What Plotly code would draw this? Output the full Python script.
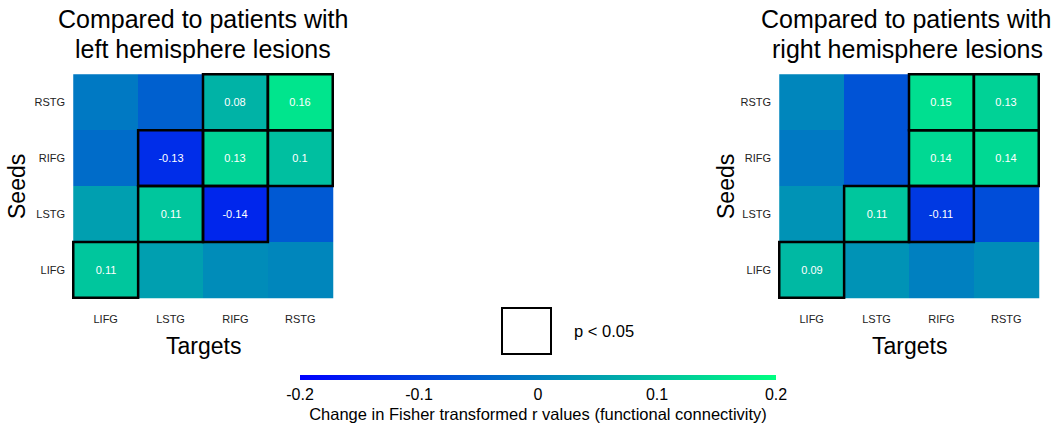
import plotly.graph_objects as go

targets = ["LIFG", "LSTG", "RIFG", "RSTG"]
seeds = ["LIFG", "LSTG", "RIFG", "RSTG"]  # bottom to top

# rows follow seeds (bottom -> top), columns follow targets
left_values = [
    [0.11, 0.05, 0.02, 0.01],
    [0.05, 0.11, -0.14, -0.06],
    [-0.03, -0.13, 0.13, 0.10],
    [-0.01, -0.05, 0.08, 0.16],
]
left_sig = [
    [1, 0, 0, 0],
    [0, 1, 1, 0],
    [0, 1, 1, 1],
    [0, 0, 1, 1],
]
right_values = [
    [0.09, 0.03, 0.00, 0.02],
    [0.03, 0.11, -0.11, -0.08],
    [-0.01, -0.07, 0.14, 0.14],
    [0.01, -0.07, 0.15, 0.13],
]
right_sig = [
    [1, 0, 0, 0],
    [0, 1, 1, 0],
    [0, 0, 1, 1],
    [0, 0, 1, 1],
]
colorbar_ticks = [-0.2, -0.1, 0, 0.1, 0.2]
colorbar_ticktext = ["-0.2", "-0.1", "0", "0.1", "0.2"]

FONT = "Liberation Sans, Arial, Helvetica, sans-serif"

W, H = 1054, 425


def px(x):
    return x / W


def py(y):
    return 1 - y / H


def fmt(v):
    s = f"{v:.2f}".rstrip("0")
    if s.endswith("."):
        s = s[:-1]
    return s


def texts(values, sig):
    return [[fmt(v) if s else "" for v, s in zip(rv, rs)] for rv, rs in zip(values, sig)]


fig = go.Figure()
for k, (vals, sig) in enumerate([(left_values, left_sig), (right_values, right_sig)]):
    xa = "x" if k == 0 else "x2"
    ya = "y" if k == 0 else "y2"
    fig.add_trace(go.Heatmap(
        z=vals, x=targets, y=seeds, coloraxis="coloraxis",
        text=texts(vals, sig), texttemplate="%{text}",
        textfont=dict(color="white", size=11, family=FONT),
        xaxis=xa, yaxis=ya, hoverinfo="skip", xgap=0, ygap=0,
    ))
    for r, row in enumerate(sig):
        for c, s in enumerate(row):
            if s:
                fig.add_shape(type="rect", xref=xa, yref=ya,
                              x0=c - 0.5, x1=c + 0.5, y0=r - 0.5, y1=r + 0.5,
                              line=dict(color="black", width=2.5), layer="above")

axis_common = dict(showgrid=False, zeroline=False, showline=False, ticks="",
                   tickfont=dict(size=11, family=FONT, color="#222"))
fig.update_layout(
    width=W, height=H,
    margin=dict(l=0, r=0, t=0, b=0, autoexpand=False),
    paper_bgcolor="white", plot_bgcolor="white",
    font=dict(family=FONT, color="black"),
    xaxis=dict(domain=[px(72), px(334)], anchor="y", ticklabelstandoff=12, **axis_common),
    yaxis=dict(domain=[py(299), py(73)], anchor="x", ticklabelstandoff=6, **axis_common),
    xaxis2=dict(domain=[px(778), px(1040)], anchor="y2", ticklabelstandoff=12, **axis_common),
    yaxis2=dict(domain=[py(299), py(73)], anchor="x2", ticklabelstandoff=6, **axis_common),
    coloraxis=dict(
        cmin=-0.2, cmax=0.2,
        colorscale=[[0, "rgb(0,0,255)"], [1, "rgb(0,255,128)"]],
        colorbar=dict(
            orientation="h", x=px(538), xanchor="center", y=py(375), yanchor="top",
            len=476, lenmode="pixels", thickness=5, outlinewidth=0, xpad=0, ypad=0,
            tickvals=colorbar_ticks, ticktext=colorbar_ticktext, ticks="",
            tickfont=dict(size=16, family=FONT, color="black"),
            title=dict(text="Change in Fisher transformed r values (functional connectivity)",
                       side="bottom", font=dict(size=16.5, family=FONT, color="black")),
        ),
    ),
    showlegend=False,
)


def note(text, x, y, size, angle=0, xanchor="center"):
    fig.add_annotation(text=text, xref="paper", yref="paper", x=px(x), y=py(y),
                       xanchor=xanchor, yanchor="middle", showarrow=False, textangle=angle,
                       font=dict(size=size, family=FONT, color="black"))


note("Compared to patients with", 203, 19, 25)
note("left hemisphere lesions", 203, 49, 25)
note("Compared to patients with", 906, 19, 25)
note("right hemisphere lesions", 907, 49, 25)

for xc in (203, 909):
    note("Targets", xc, 346, 23)
for xc in (17, 726):
    note("Seeds", xc, 187, 23, angle=-90)

# significance legend
fig.add_shape(type="rect", xref="paper", yref="paper",
              x0=px(502), x1=px(551), y0=py(354), y1=py(308),
              line=dict(color="black", width=2))
note("p < 0.05", 572, 331, 16.5, xanchor="left")

fig.write_html("out.html",
               config={"displayModeBar": False},
               post_script="document.body.style.margin='0';document.body.style.overflow='hidden';")
